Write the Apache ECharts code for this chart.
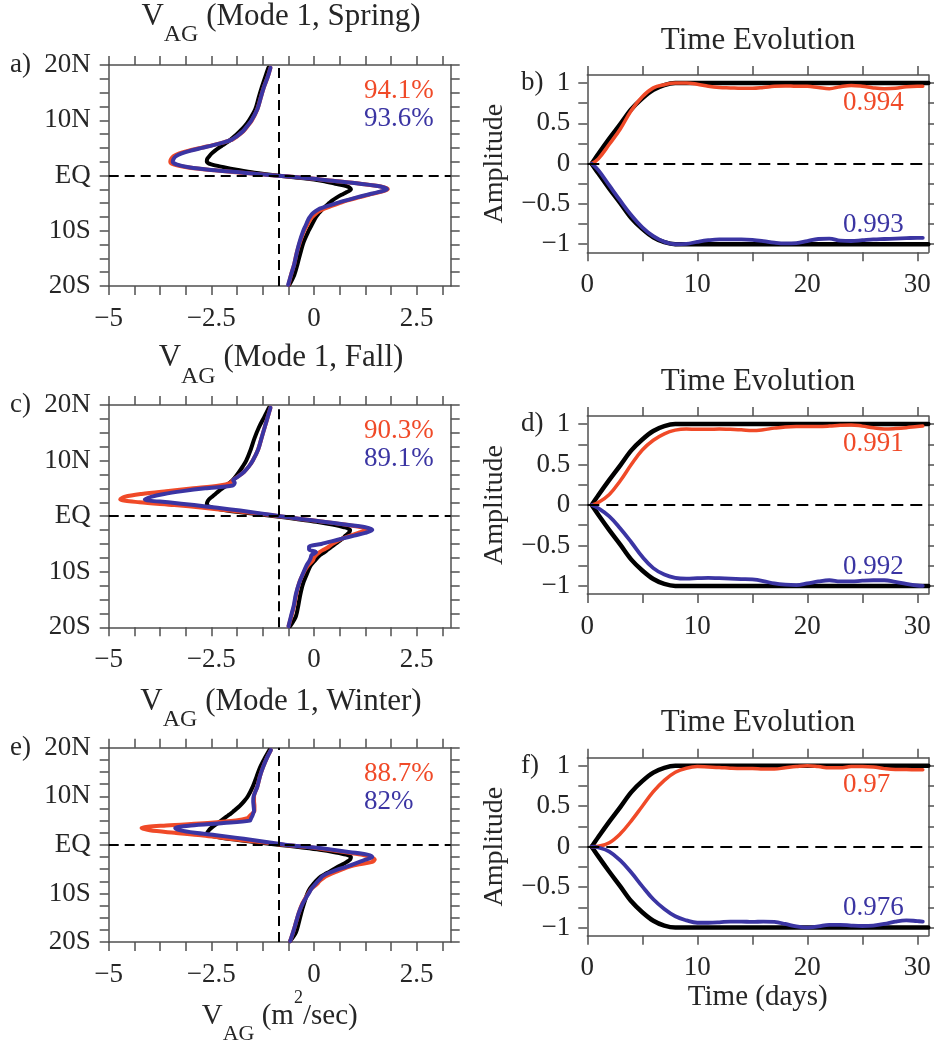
<!DOCTYPE html>
<html>
<head>
<meta charset="utf-8">
<title>Ageostrophic wind, mode 1</title>
<script src="https://cdn.jsdelivr.net/npm/echarts@6.0.0/dist/echarts.min.js"></script>
<style>
  html, body { margin: 0; padding: 0; background: #fff; }
  #chart { width: 934px; height: 1046px; }
</style>
</head>
<body>
<div id="chart"></div>
<script>
// ---------- meridional profiles of V_AG (m^2/sec) ----------
const latitudes = [19.5, 18, 16, 14, 12, 10, 9, 8, 7, 6.5, 6, 5.5, 5, 4.5, 4, 3.5, 3, 2.5, 2, 1.5,
  1, 0.5, 0, -0.5, -1, -1.5, -2, -2.5, -3, -3.5, -4, -4.5, -5, -5.5, -6, -6.5, -7, -7.5, -8, -9,
  -10, -12, -14, -16, -18, -19.8];

const springObs = [-1.11, -1.18, -1.27, -1.35, -1.43, -1.58, -1.68, -1.81, -1.95, -2.03, -2.12, -2.22, -2.32, -2.41, -2.49, -2.55, -2.60, -2.61, -2.50, -2.20,
  -1.85, -1.45, -0.90, -0.25, 0.22, 0.52, 0.82, 0.90, 0.80, 0.67, 0.55, 0.45, 0.37, 0.29, 0.22, 0.16, 0.10, 0.05, 0.01, -0.06,
  -0.13, -0.25, -0.33, -0.40, -0.48, -0.60];
const springRed = [-1.06, -1.12, -1.22, -1.30, -1.38, -1.51, -1.61, -1.72, -1.89, -1.99, -2.20, -2.46, -2.76, -3.05, -3.28, -3.42, -3.48, -3.50, -3.42, -3.10,
  -2.52, -1.74, -0.95, -0.14, 0.51, 1.13, 1.63, 1.80, 1.60, 1.33, 1.07, 0.82, 0.62, 0.43, 0.25, 0.12, 0.03, -0.04, -0.09, -0.17,
  -0.24, -0.34, -0.42, -0.48, -0.56, -0.62];
const springBlue = [-1.06, -1.12, -1.22, -1.30, -1.38, -1.52, -1.62, -1.73, -1.90, -2.00, -2.20, -2.45, -2.73, -3.00, -3.22, -3.36, -3.42, -3.44, -3.35, -3.05,
  -2.50, -1.72, -0.95, -0.15, 0.50, 1.12, 1.62, 1.78, 1.56, 1.28, 1.02, 0.78, 0.55, 0.34, 0.14, 0.03, -0.05, -0.10, -0.14, -0.20,
  -0.26, -0.35, -0.42, -0.48, -0.56, -0.63];

const fallObs = [-1.10, -1.20, -1.34, -1.45, -1.54, -1.65, -1.73, -1.82, -1.92, -1.98, -2.05, -2.13, -2.23, -2.32, -2.40, -2.48, -2.56, -2.60, -2.61, -2.45,
  -2.12, -1.56, -0.95, -0.43, 0.06, 0.45, 0.74, 0.88, 0.85, 0.77, 0.70, 0.61, 0.52, 0.43, 0.34, 0.25, 0.15, 0.08, 0.02, -0.09,
  -0.15, -0.26, -0.33, -0.38, -0.44, -0.58];
const fallRed = [-1.06, -1.12, -1.20, -1.28, -1.36, -1.49, -1.58, -1.70, -1.88, -1.97, -2.03, -2.30, -2.94, -3.60, -4.20, -4.60, -4.72, -4.25, -3.40, -2.70,
  -2.05, -1.40, -0.85, -0.33, 0.23, 0.75, 1.15, 1.27, 1.08, 0.88, 0.70, 0.56, 0.45, 0.36, 0.24, 0.13, 0.05, 0.00, -0.03, -0.16,
  -0.24, -0.36, -0.43, -0.48, -0.55, -0.62];
const fallBlue = [-1.06, -1.12, -1.20, -1.28, -1.36, -1.49, -1.58, -1.70, -1.87, -1.97, -1.93, -1.98, -2.65, -3.20, -3.65, -3.95, -4.12, -3.55, -2.92, -2.35,
  -1.80, -1.30, -0.82, -0.33, 0.23, 0.75, 1.25, 1.42, 1.25, 0.98, 0.71, 0.45, 0.18, -0.12, -0.12, 0.05, -0.06, -0.08, -0.11, -0.19,
  -0.25, -0.36, -0.44, -0.49, -0.56, -0.62];

const winterObs = [-1.09, -1.19, -1.31, -1.40, -1.49, -1.61, -1.70, -1.81, -1.95, -2.02, -2.10, -2.18, -2.26, -2.34, -2.42, -2.50, -2.56, -2.60, -2.55, -2.29,
  -1.85, -1.35, -0.83, -0.33, 0.14, 0.50, 0.78, 0.90, 0.88, 0.80, 0.70, 0.58, 0.48, 0.38, 0.27, 0.17, 0.10, 0.04, -0.01, -0.10,
  -0.16, -0.24, -0.31, -0.37, -0.44, -0.58];
const winterRed = [-1.05, -1.14, -1.24, -1.32, -1.38, -1.46, -1.46, -1.45, -1.45, -1.50, -1.56, -1.62, -1.90, -2.60, -3.60, -4.20, -4.00, -3.40, -2.75, -2.30,
  -1.80, -1.20, -0.70, -0.10, 0.35, 0.78, 1.15, 1.38, 1.48, 1.42, 1.10, 0.85, 0.70, 0.55, 0.40, 0.28, 0.20, 0.13, 0.08, -0.06,
  -0.14, -0.28, -0.37, -0.44, -0.51, -0.58];
const winterBlue = [-1.05, -1.14, -1.24, -1.32, -1.38, -1.47, -1.48, -1.47, -1.46, -1.48, -1.50, -1.53, -1.56, -2.20, -3.00, -3.38, -3.25, -2.90, -2.38, -1.92,
  -1.50, -1.08, -0.65, -0.05, 0.45, 0.88, 1.30, 1.42, 1.28, 1.11, 0.95, 0.78, 0.60, 0.44, 0.30, 0.20, 0.15, 0.09, 0.04, -0.06,
  -0.13, -0.27, -0.37, -0.44, -0.51, -0.58];

// mean value marked by the vertical dashed line
const meanWind = -0.85;

// explained variance of each mode
const springPct = ['94.1%', '93.6%'];
const fallPct = ['90.3%', '89.1%'];
const winterPct = ['88.7%', '82%'];

// ---------- time evolution of the amplitudes ----------
const refDays = [0.4, 1, 2, 3, 4, 5, 6, 7, 8, 9, 31];
const refRise = [0, 0.12, 0.31, 0.49, 0.675, 0.81, 0.915, 0.975, 1.0, 1.0, 1.0];
const refFall = [0, -0.12, -0.31, -0.49, -0.675, -0.81, -0.915, -0.975, -1.0, -1.0, -1.0];

const days = [0.4, 1, 2, 3, 4, 5, 6, 7, 8, 9, 10, 11, 12, 13, 14, 15, 16, 17, 18, 19,
  20, 21, 22, 23, 24, 25, 26, 27, 28, 29, 30, 30.5];

const springAmpRed = [0, 0.06, 0.24, 0.43, 0.66, 0.83, 0.94, 0.98, 1.0, 1.0, 0.985, 0.96, 0.945, 0.94, 0.935, 0.935, 0.945, 0.96, 0.965, 0.96,
  0.96, 0.945, 0.93, 0.955, 0.97, 0.96, 0.94, 0.93, 0.935, 0.955, 0.96, 0.96];
const springAmpBlue = [0, -0.08, -0.27, -0.46, -0.64, -0.79, -0.9, -0.97, -1.0, -0.995, -0.97, -0.95, -0.94, -0.94, -0.94, -0.945, -0.96, -0.98, -0.99, -0.985,
  -0.96, -0.935, -0.93, -0.955, -0.96, -0.95, -0.94, -0.935, -0.93, -0.925, -0.92, -0.92];
const fallAmpRed = [0, 0.03, 0.13, 0.3, 0.5, 0.68, 0.8, 0.88, 0.925, 0.94, 0.935, 0.935, 0.94, 0.935, 0.93, 0.92, 0.93, 0.95, 0.965, 0.97,
  0.97, 0.97, 0.975, 0.985, 0.99, 0.975, 0.955, 0.94, 0.945, 0.955, 0.97, 0.975];
const fallAmpBlue = [0, -0.04, -0.14, -0.29, -0.46, -0.64, -0.78, -0.86, -0.9, -0.91, -0.905, -0.9, -0.905, -0.91, -0.915, -0.92, -0.94, -0.97, -0.985, -0.99,
  -0.97, -0.945, -0.93, -0.945, -0.945, -0.935, -0.93, -0.93, -0.95, -0.975, -0.995, -1.0];
const winterAmpRed = [0, 0.005, 0.05, 0.16, 0.32, 0.5, 0.68, 0.82, 0.92, 0.97, 0.99, 0.985, 0.98, 0.97, 0.965, 0.965, 0.96, 0.96, 0.975, 0.99,
  1.0, 0.99, 0.975, 0.975, 0.99, 0.99, 0.985, 0.965, 0.955, 0.955, 0.95, 0.95];
const winterAmpBlue = [0, -0.01, -0.06, -0.17, -0.32, -0.49, -0.65, -0.77, -0.86, -0.91, -0.94, -0.94, -0.935, -0.925, -0.925, -0.93, -0.925, -0.93, -0.955, -0.985,
  -1.0, -0.985, -0.965, -0.965, -0.975, -0.98, -0.975, -0.955, -0.925, -0.91, -0.92, -0.925];

// pattern correlations
const springCorr = ['0.994', '0.993'];
const fallCorr = ['0.991', '0.992'];
const winterCorr = ['0.97', '0.976'];

// ---------- ticks and tick labels ----------
const windTicks = [-5, -4.375, -3.75, -3.125, -2.5, -1.875, -1.25, -0.625, 0, 0.625, 1.25, 1.875, 2.5, 3.125];
const windLabels = [-5, -2.5, 0, 2.5];
const latTicks = [-20, -17.5, -15, -12.5, -10, -7.5, -5, -2.5, 0, 2.5, 5, 7.5, 10, 12.5, 15, 17.5, 20];
const latLabels = [-20, -10, 0, 10, 20];
const dayTicks = [0, 5, 10, 15, 20, 25, 30];
const dayLabels = [0, 10, 20, 30];
const ampTicks = [-1, -0.75, -0.5, -0.25, 0, 0.25, 0.5, 0.75, 1];
const ampLabels = [-1, -0.5, 0, 0.5, 1];

// ---------- styling ----------
const FONT = '"Liberation Serif", "Times New Roman", serif';
const INK = '#262626';
const FRAME = '#505050';
const RED = '#f04a28';
const BLUE = '#3b35a3';
const TICK_FONT = 27;

const signed = v => (v < 0 ? '\u2212' + Math.abs(v) : String(v));
const latName = v => (v === 0 ? 'EQ' : Math.abs(v) + (v > 0 ? 'N' : 'S'));

const grid = [], xAxis = [], yAxis = [], series = [], graphic = [];

function makeAxis(gi, position, cfg, main) {
  return {
    type: 'value', gridIndex: gi, position, min: cfg.min, max: cfg.max,
    axisLine: { show: true, onZero: false, lineStyle: { color: FRAME, width: 1.5 } },
    axisTick: { show: true, inside: false, length: 9, customValues: cfg.ticks, lineStyle: { color: FRAME, width: 1.5 } },
    axisLabel: {
      show: main, customValues: cfg.labels, formatter: cfg.format, margin: cfg.margin,
      fontFamily: FONT, fontSize: TICK_FONT, color: INK
    },
    splitLine: { show: false },
    ...(main && cfg.axisName ? cfg.axisName : {})
  };
}

function addPanel(box, xCfg, yCfg) {
  grid.push(Object.assign({ containLabel: false }, box));
  const gi = grid.length - 1;
  xAxis.push(makeAxis(gi, 'bottom', xCfg, true), makeAxis(gi, 'top', xCfg, false));
  yAxis.push(makeAxis(gi, 'left', yCfg, true), makeAxis(gi, 'right', yCfg, false));
  return gi;
}

function guideSeries(gi, lines, dash) {
  series.push({
    type: 'line', xAxisIndex: 2 * gi, yAxisIndex: 2 * gi, data: [], z: 1, silent: true,
    markLine: {
      silent: true, symbol: ['none', 'none'], label: { show: false },
      lineStyle: { color: '#000', width: 2, type: dash },
      emphasis: { disabled: true },
      data: lines
    }
  });
}

function curve(gi, data, color, width, z, smooth) {
  series.push({
    type: 'line', xAxisIndex: 2 * gi, yAxisIndex: 2 * gi, data,
    showSymbol: false, smooth, silent: true, z,
    lineStyle: { color, width, cap: 'round', join: 'round' }, itemStyle: { color }
  });
}

function text(str, x, y, size, color, align) {
  graphic.push({
    type: 'text', x, y, silent: true,
    style: { text: str, font: size + 'px ' + FONT, fill: color, align: align || 'left', verticalAlign: 'middle' }
  });
}

function vagTitle(season, cx, top) {
  graphic.push({
    type: 'text', x: cx, y: top, silent: true,
    style: {
      text: '{v|V}{s|AG}{v| (Mode 1, ' + season + ')}',
      align: 'center', verticalAlign: 'top', fill: INK,
      rich: {
        v: { font: '31px ' + FONT, lineHeight: 31, verticalAlign: 'top', fill: INK },
        s: { font: '24px ' + FONT, lineHeight: 46, verticalAlign: 'bottom', fill: INK }
      }
    }
  });
}

// ---------- left column: profiles ----------
const profiles = [
  { box: { left: 108.7, right: 483.3, top: 65, height: 221 }, obs: springObs, red: springRed, blue: springBlue,
    season: 'Spring', titleTop: 1.0, letter: 'a)', pct: springPct },
  { box: { left: 108.7, right: 483.3, top: 405, height: 222.3 }, obs: fallObs, red: fallRed, blue: fallBlue,
    season: 'Fall', titleTop: 342.6, letter: 'c)', pct: fallPct },
  { box: { left: 108.7, right: 483.3, top: 747.7, height: 222.3 }, obs: winterObs, red: winterRed, blue: winterBlue,
    season: 'Winter', titleTop: 686.0, letter: 'e)', pct: winterPct, last: true }
];

profiles.forEach(p => {
  const xCfg = { min: -5, max: 3.33, ticks: windTicks, labels: windLabels, format: signed, margin: 19 };
  if (p.last) {
    xCfg.axisName = {
      name: '{v|V}{s|AG}{v| (m}{p|2}{v|/sec)}', nameLocation: 'middle', nameGap: 33,
      nameTextStyle: {
        color: INK,
        rich: {
          v: { fontFamily: FONT, fontSize: 29, lineHeight: 29, verticalAlign: 'top', padding: [13, 0, 0, 0], color: INK },
          s: { fontFamily: FONT, fontSize: 22, lineHeight: 56, verticalAlign: 'bottom', color: INK },
          p: { fontFamily: FONT, fontSize: 18, lineHeight: 18, verticalAlign: 'top', color: INK }
        }
      }
    };
  }
  const yCfg = { min: -20, max: 20, ticks: latTicks, labels: latLabels, format: latName, margin: 18 };
  const gi = addPanel(p.box, xCfg, yCfg);
  guideSeries(gi, [{ yAxis: 0 }, { xAxis: meanWind }], [10, 6]);
  curve(gi, latitudes.map((lat, i) => [p.obs[i], lat]), '#000', 4, 2, 0.3);
  curve(gi, latitudes.map((lat, i) => [p.red[i], lat]), RED, 4, 3, 0.3);
  curve(gi, latitudes.map((lat, i) => [p.blue[i], lat]), BLUE, 4, 4, 0.3);

  vagTitle(p.season, 281, p.titleTop);
  text(p.letter, 10, p.box.top, TICK_FONT, INK);
  text(p.pct[0], 364, p.box.top + 26.2, TICK_FONT, RED);
  text(p.pct[1], 364, p.box.top + 54.2, TICK_FONT, BLUE);
});

// ---------- right column: time evolution ----------
const evolutions = [
  { box: { left: 587.3, right: 5.7, top: 75, height: 177.3 }, red: springAmpRed, blue: springAmpBlue,
    corr: springCorr, letter: 'b)', titleY: 40.4 },
  { box: { left: 587.3, right: 5.7, top: 416, height: 178 }, red: fallAmpRed, blue: fallAmpBlue,
    corr: fallCorr, letter: 'd)', titleY: 381.4 },
  { box: { left: 587.3, right: 5.7, top: 757.7, height: 178 }, red: winterAmpRed, blue: winterAmpBlue,
    corr: winterCorr, letter: 'f)', titleY: 723.0, last: true }
];

evolutions.forEach(e => {
  const xCfg = { min: 0, max: 31, ticks: dayTicks, labels: dayLabels, format: signed, margin: 19 };
  if (e.last) {
    xCfg.axisName = {
      name: 'Time (days)', nameLocation: 'middle', nameGap: 44,
      nameTextStyle: { fontFamily: FONT, fontSize: 29, color: INK }
    };
  }
  const yCfg = {
    min: -1.1, max: 1.1, ticks: ampTicks, labels: ampLabels, format: signed, margin: 17,
    axisName: {
      name: 'Amplitude', nameLocation: 'middle', nameRotate: 90, nameGap: 79,
      nameTextStyle: { fontFamily: FONT, fontSize: 28, color: INK }
    }
  };
  const gi = addPanel(e.box, xCfg, yCfg);
  guideSeries(gi, [{ yAxis: 0 }], [12, 7]);
  curve(gi, refDays.map((d, i) => [d, refRise[i]]), '#000', 4.5, 2, 0.35);
  curve(gi, refDays.map((d, i) => [d, refFall[i]]), '#000', 4.5, 2, 0.35);
  curve(gi, days.map((d, i) => [d, e.red[i]]), RED, 3.5, 3, 0.4);
  curve(gi, days.map((d, i) => [d, e.blue[i]]), BLUE, 3.8, 4, 0.4);

  const h = e.box.height, top = e.box.top;
  const yOf = v => top + (1.1 - v) / 2.2 * h;
  text('Time Evolution', 758, e.titleY, 31, INK, 'center');
  text(e.letter, 521, yOf(1), TICK_FONT, INK);
  text(e.corr[0], 843, yOf(1) + 19.5, TICK_FONT, RED);
  text(e.corr[1], 843, yOf(-1) - 19.5, TICK_FONT, BLUE);
});

const chart = echarts.init(document.getElementById('chart'), null, { renderer: 'canvas' });
chart.setOption({
  backgroundColor: '#fff',
  animation: false,
  textStyle: { fontFamily: FONT },
  grid, xAxis, yAxis, series, graphic
});
</script>
</body>
</html>
